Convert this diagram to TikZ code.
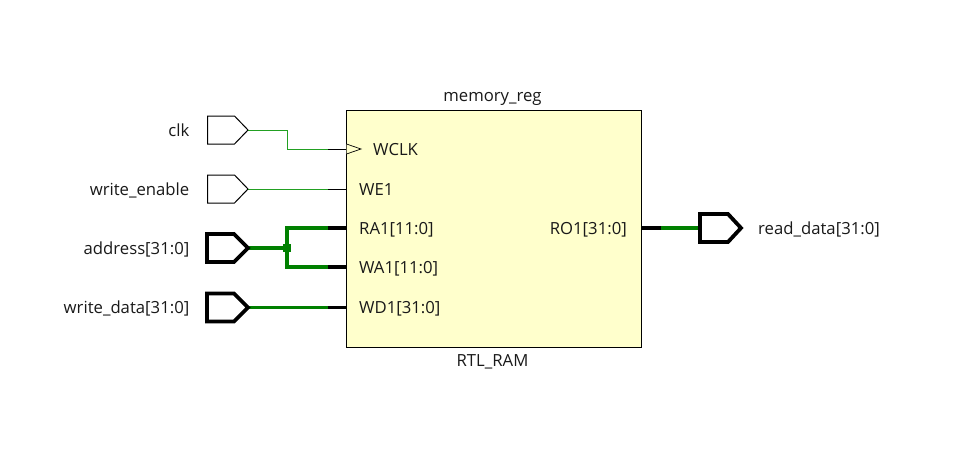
\documentclass[tikz,border=0pt]{standalone}
\usepackage{fontspec}
\setmainfont{Open Sans}
\definecolor{ramfill}{HTML}{FFFFCC}
\definecolor{thinwire}{HTML}{22A022}
\definecolor{thickwire}{HTML}{008000}
\tikzset{
  portthin/.style={draw=black,line width=1pt,fill=white,miter limit=10},
  portbus/.style={draw=black,line width=3.8pt,fill=white,line join=miter,miter limit=10},
  wirethin/.style={draw=thinwire,line width=1pt},
  wirebus/.style={draw=thickwire,line width=3.6pt},
  stubthin/.style={draw=black,line width=1pt},
  stubbus/.style={draw=black,line width=3.6pt},
  lbl/.style={font=\fontsize{16.7}{19}\selectfont,inner sep=0pt,text=black!90},
  ram/.style={draw=black,line width=1pt,fill=ramfill,minimum width=294.5pt,minimum height=237pt,inner sep=0pt},
  dot/.style={fill=thickwire,minimum size=8pt,inner sep=0pt}
}
\begin{document}
\begin{tikzpicture}[x=1pt,y=-1pt]
\useasboundingbox (0,0) rectangle (962,455);
\node[ram] (mem) at (493.75,228.5) {};
\node[lbl,anchor=base] (title) at (492.5,101.5) {memory\_reg};
\node[lbl,anchor=base] (type) at (492.5,366.5) {RTL\_RAM};
% pin coordinates
\coordinate (wclkin) at (346.5,149); \coordinate (wclkstub) at (328,149);
\coordinate (wein) at (346.5,189);   \coordinate (westub) at (328,189);
\coordinate (rain) at (346.5,228);   \coordinate (rastub) at (328,228);
\coordinate (wain) at (346.5,267);   \coordinate (wastub) at (328,267);
\coordinate (wdin) at (346.5,307.5); \coordinate (wdstub) at (328,307.5);
\coordinate (roin) at (641,228);     \coordinate (rostub) at (661,228);
% ports
\coordinate (clktip) at (248,130);
\coordinate (entip) at (248,189);
\coordinate (addrtip) at (248,248);
\coordinate (wdattip) at (248,307.5);
\coordinate (rdatin) at (700,228);
\coordinate (j) at (287,248);
% wires
\draw[wirethin] (clktip) -- (287,130) -- (287,149) -- (wclkstub);
\draw[wirethin] (entip) -- (westub);
\draw[wirebus] (addrtip) -- (j);
\draw[wirebus,line join=miter] (rastub) -- (287,228) -- (287,267) -- (wastub);
\draw[wirebus] (wdattip) -- (wdstub);
\draw[wirebus] (rostub) -- (rdatin);
\node[dot] (junction) at (j) {};
% stubs
\draw[stubthin] (wclkstub) -- (wclkin);
\draw[stubthin] (westub) -- (wein);
\draw[stubbus] (rastub) -- (rain);
\draw[stubbus] (wastub) -- (wain);
\draw[stubbus] (wdstub) -- (wdin);
\draw[stubbus] (roin) -- (rostub);
% clock mark
\draw[stubthin,line width=.7pt,fill=ramfill] (346.5,144) -- (361,149) -- (346.5,154);
% port shapes
\draw[portthin] (207.5,116) -- (234.5,116) -- (clktip) -- (234.5,144) -- (207.5,144) -- cycle;
\draw[portthin] (207.5,175) -- (234.5,175) -- (entip) -- (234.5,203) -- (207.5,203) -- cycle;
\draw[portbus] (207,234) -- (234,234) -- (addrtip) -- (234,262) -- (207,262) -- cycle;
\draw[portbus] (207,293.5) -- (234,293.5) -- (wdattip) -- (234,321.5) -- (207,321.5) -- cycle;
\draw[portbus] (700,214) -- (728,214) -- (741,228) -- (728,242) -- (700,242) -- cycle;
% labels
\node[lbl,anchor=base east] (l1) at (189.5,136) {clk};
\node[lbl,anchor=base east] (l2) at (189.5,195) {write\_enable};
\node[lbl,anchor=base east] (l3) at (189.5,254) {address[31:0]};
\node[lbl,anchor=base east] (l4) at (189.5,313.5) {write\_data[31:0]};
\node[lbl,anchor=base west] (l5) at (758,234) {read\_data[31:0]};
\node[lbl,anchor=base west] (p1) at (373,155) {WCLK};
\node[lbl,anchor=base west] (p2) at (359,195) {WE1};
\node[lbl,anchor=base west] (p3) at (359,234) {RA1[11:0]};
\node[lbl,anchor=base west] (p4) at (359,273) {WA1[11:0]};
\node[lbl,anchor=base west] (p5) at (359,313) {WD1[31:0]};
\node[lbl,anchor=base east] (p6) at (627,234) {RO1[31:0]};
\end{tikzpicture}
\end{document}
